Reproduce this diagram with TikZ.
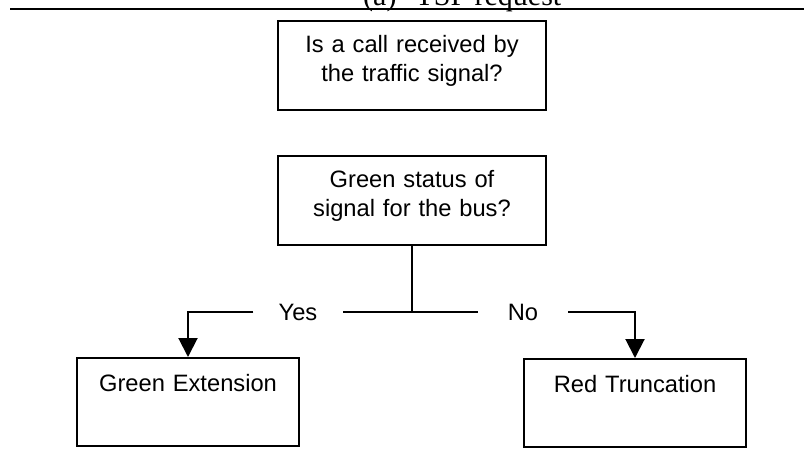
\documentclass[tikz,border=0pt]{standalone}
\usepackage{fontspec}
\setmainfont{Liberation Sans}
\newfontfamily\titlefont{Liberation Serif}
\usetikzlibrary{arrows.meta}
\begin{document}
\begin{tikzpicture}[x=1pt,y=-1pt,
  every node/.style={font=\fontsize{23.7}{28.7}\selectfont, inner sep=0pt},
  qbox/.style={draw, line width=2pt, align=center, minimum width=268pt,
    text width=260pt, text height=31.5pt, text depth=57.5pt, anchor=north west},
  abox/.style={draw, line width=2pt, align=center, minimum width=222pt,
    text width=214pt, text height=33pt, text depth=55pt, anchor=north west},
  conn/.style={line width=2pt},
  arr/.style={line width=2pt, -{Triangle[length=19pt,width=19pt]}},
  lbl/.style={inner ysep=0pt}]
\useasboundingbox (0,0) rectangle (804,451);
\node[font=\titlefont\fontsize{30}{36}\selectfont, anchor=base west] (title) at (363,5) {(a)\hspace{19pt}TSP request};
\coordinate (rl) at (10,9);
\coordinate (rr) at (804,9);
\draw[line width=1.3pt] (rl) -- (rr);
\node[qbox] (q1) at (277,20) {Is a call received by\\the traffic signal?};
\node[qbox] (q2) at (277,155) {Green status of\\signal for the bus?};
\node[abox] (ge) at (76,357) {Green Extension};
\node[abox] (rt) at (523,358) {Red Truncation};
\coordinate (j) at (q2.south |- 0,312);
\node[lbl, inner xsep=25pt] (yes) at (298,312) {Yes};
\node[lbl, inner xsep=30pt] (no) at (523,312) {No};
\draw[conn] (q2.south) -- (j);
\draw[conn] (j) -- (yes.east);
\draw[conn] (j) -- (no.west);
\draw[arr] (yes.west) -| (ge.north);
\draw[arr] (no.east) -| (rt.north);
\end{tikzpicture}
\end{document}
